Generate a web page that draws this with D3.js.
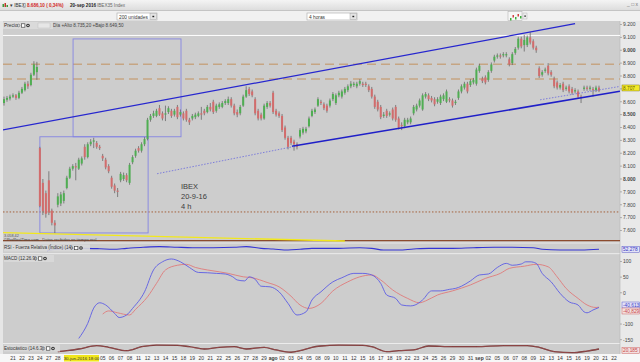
<!DOCTYPE html>
<html>
<head>
<meta charset="utf-8">
<script src="https://cdn.jsdelivr.net/npm/d3@7"></script>
<style>
  body { margin: 0; background: #e6e6e6; }
  svg { display: block; font-family: "Liberation Sans", Arial, sans-serif; }
</style>
</head>
<body>
<svg id="chart" width="640" height="362"></svg>
<script>
// IBEX 4h candles, 20-jun .. 20-sep 2016
const opens = [8590,8615,8625,8640,8650,8630,8670,8690,8740,8730,8810,8830,8240,7970,7890,7990,7755,7660,7800,7810,7830,7930,8010,8080,8100,8080,8120,8250,8170,8270,8290,8280,8250,8180,8150,8100,8010,7950,7910,7990,8000,8030,7970,8130,8180,8240,8220,8270,8310,8460,8490,8490,8550,8510,8500,8520,8530,8500,8560,8500,8510,8530,8460,8470,8480,8490,8510,8530,8520,8560,8600,8530,8560,8560,8590,8590,8620,8570,8520,8510,8570,8640,8700,8680,8620,8530,8500,8470,8560,8590,8670,8530,8510,8490,8400,8320,8320,8290,8270,8330,8360,8370,8410,8490,8520,8570,8600,8580,8570,8570,8620,8590,8650,8640,8670,8690,8720,8730,8720,8740,8740,8740,8720,8700,8640,8600,8560,8490,8530,8500,8540,8560,8470,8420,8410,8440,8440,8510,8540,8570,8540,8640,8650,8630,8620,8600,8590,8620,8600,8620,8610,8590,8630,8680,8710,8740,8730,8750,8740,8840,8780,8790,8770,8840,8920,8950,8960,8960,8960,8930,8900,8980,9020,9090,9040,9040,9100,9070,9020,8860,8810,8840,8880,8830,8780,8750,8710,8740,8700,8720,8700,8680,8680,8640,8700,8710,8700,8700,8690,8710];
const highs = [8640,8645,8655,8665,8660,8685,8715,8755,8760,8825,8915,8910,8250,8000,7910,8060,7770,7680,7890,7900,7910,8025,8095,8115,8125,8165,8175,8270,8285,8310,8320,8295,8265,8195,8165,8115,8025,7965,7930,8055,8050,8045,8125,8185,8235,8255,8285,8325,8475,8505,8530,8545,8575,8525,8570,8565,8545,8545,8575,8540,8525,8545,8475,8505,8515,8525,8560,8545,8575,8590,8615,8585,8595,8605,8620,8640,8635,8585,8540,8575,8655,8720,8715,8695,8635,8545,8515,8585,8605,8605,8685,8545,8525,8505,8415,8335,8335,8305,8285,8395,8405,8405,8485,8545,8555,8635,8615,8595,8585,8625,8675,8665,8685,8695,8715,8735,8760,8755,8755,8775,8755,8755,8735,8715,8655,8615,8575,8520,8545,8525,8555,8575,8485,8440,8475,8475,8485,8575,8585,8625,8665,8675,8665,8645,8635,8635,8655,8665,8695,8635,8625,8615,8695,8735,8755,8755,8775,8785,8865,8895,8795,8805,8845,8905,8965,8975,8975,8985,8985,8945,8985,9025,9105,9105,9120,9115,9140,9085,9035,8875,8845,8865,8900,8845,8795,8765,8745,8755,8725,8735,8715,8705,8695,8655,8725,8725,8725,8715,8725,8725];
const lows = [8570,8600,8610,8630,8615,8620,8660,8680,8700,8720,8800,8770,7780,7720,7700,7720,7640,7580,7780,7790,7810,7920,8000,8065,7990,8070,8105,8150,8160,8255,8240,8235,8225,8140,8075,8045,7925,7890,7860,7975,7985,7975,7955,8115,8165,8205,8205,8255,8300,8445,8475,8480,8490,8455,8450,8505,8475,8485,8465,8485,8455,8445,8420,8455,8465,8480,8460,8495,8510,8525,8505,8515,8545,8550,8575,8575,8555,8495,8480,8495,8560,8630,8645,8635,8495,8455,8455,8460,8545,8555,8505,8485,8475,8365,8305,8230,8265,8220,8230,8315,8345,8355,8400,8480,8505,8560,8575,8535,8515,8555,8605,8575,8635,8625,8655,8675,8705,8715,8705,8725,8715,8715,8675,8625,8545,8525,8465,8475,8475,8485,8455,8445,8385,8380,8395,8425,8425,8495,8525,8555,8530,8625,8605,8595,8565,8585,8575,8605,8590,8595,8555,8575,8615,8665,8695,8665,8715,8735,8725,8825,8745,8735,8755,8825,8905,8935,8935,8945,8945,8875,8885,8965,9005,9015,8990,9025,9045,9005,8980,8785,8795,8825,8805,8795,8705,8695,8695,8675,8685,8665,8655,8665,8625,8590,8685,8685,8685,8640,8675,8675];
const closes = [8620,8630,8640,8650,8630,8670,8700,8740,8720,8810,8890,8870,7790,7750,7730,7740,7660,7640,7865,7880,7890,8010,8080,8100,8090,8150,8160,8170,8270,8290,8300,8250,8240,8160,8090,8060,7940,7910,7900,8040,8030,7990,8110,8170,8220,8220,8270,8310,8460,8490,8510,8530,8500,8470,8510,8550,8490,8530,8480,8520,8470,8460,8440,8490,8500,8510,8500,8510,8560,8540,8520,8570,8580,8590,8605,8620,8570,8510,8500,8560,8640,8690,8660,8650,8510,8470,8470,8570,8590,8570,8520,8500,8490,8380,8320,8250,8280,8270,8250,8380,8390,8390,8470,8530,8540,8620,8590,8550,8530,8610,8660,8650,8670,8680,8700,8720,8740,8740,8740,8760,8730,8730,8690,8640,8560,8540,8480,8500,8490,8510,8470,8460,8400,8410,8460,8460,8470,8560,8570,8610,8650,8660,8620,8610,8580,8620,8640,8650,8680,8610,8570,8600,8680,8720,8740,8680,8760,8770,8850,8880,8760,8750,8830,8890,8950,8960,8950,8970,8970,8890,8970,9010,9090,9030,9080,9100,9060,9020,9000,8800,8830,8850,8820,8810,8720,8710,8730,8690,8710,8680,8670,8690,8640,8630,8710,8700,8710,8690,8710,8686];

// drawn objects on the price panel, as [candle index, price]
const upperChannel = [[-1.3, 8377], [191, 9206]];
const lowerChannel = [[96.3, 8254], [206, 8681]];
const lowerChannelExt = [[51.2, 8041], [97.3, 8254]];
const rightDotted = [[179.3, 8615], [206, 8719]];
const yellowLine = [[-1.3, 7584], [114, 7518]];
const projBoxes = [[23.1, 59.2, 8328, 9088], [12, 48.2, 7581, 8328]];
const whiteLevel = 9115;
const tanLevels = [8891, 8777];
const dottedLevel = 7744;
const baseLevel = 7522;
const priceTicks = [9200, 9100, 9000, 8900, 8800, 8700, 8600, 8500, 8400, 8300, 8200, 8100, 8000, 7900, 7800, 7700, 7600];
const boldTicks = [9000, 8500, 8000];

// indicators, as [candle index, value]
const rsiPts = [[14.4,41],[18.7,54],[26.4,59],[32,56],[36.5,52],[41,59],[46.5,67],[52,72],[58,67],[63,64],[70,64],[77,67],[81,72],[86,59],[90,54],[95,46],[99,52],[103,59],[106,59],[112,59],[119,64],[123,59],[127,46],[132,46],[137,54],[142,59],[150,59],[157,64],[164,67],[170,67],[177,64],[180,52],[186,46],[193,46],[199,52]];
const macdPts = [[25,-146],[28,-98],[30,-49],[32,-32],[34,-39],[37,-66],[38.5,-79],[41,-71],[43,-50],[47,3],[50,73],[53,99],[56,108],[59,99],[62,81],[65,65],[68,64],[71,62],[74,60],[76.5,51],[78,41],[80.5,38],[82,51],[84,43],[86,21],[89,19],[92,3],[95,-34],[98,-71],[101,-61],[103,-23],[106,3],[110,35],[113,48],[117,62],[120,62],[123,57],[126,30],[128,-7],[131,-18],[133,-39],[136,-42],[137.5,-39],[140,-23],[143,6],[146,6],[149,11],[151,14],[153,21],[156,38],[159,57],[162,60],[165,81],[168,94],[170,88],[173,92],[174.5,99],[176,99],[178,94],[180,62],[183,35],[186,-2],[189,-29],[192,-39],[194,-61],[195,-64],[197,-55],[199,-47]];
const signalPts = [[33,-68],[35,-58],[38,-64],[42,-71],[44,-53],[48,-13],[51,30],[54,73],[58,88],[61,91],[64,81],[68,73],[72,67],[75,62],[80,51],[83,48],[88,33],[92,19],[96,-11],[99,-39],[102,-50],[106,-34],[110,6],[115,35],[119,51],[123,57],[126,41],[130,9],[135,-18],[139,-32],[141,-26],[145,-7],[150,6],[156,25],[161,46],[166,62],[169,78],[174,85],[178,91],[182,83],[185,51],[188,14],[192,-18],[195,-39],[198,-47],[199,-46]];
const stochPts = [[18,28],[21,36],[25,50],[31,78],[35,64],[41,36],[46,69],[51,83],[58,81],[62,69],[67,50],[72,64],[77,69],[81,50],[87,64],[91,42],[96,23],[99,36],[103,64],[106,75],[112,83],[120,81],[123,69],[128,28],[132,36],[137,42],[142,75],[150,69],[158,69],[167,78],[175,78],[179,64],[184,28],[190,19],[195,33],[199,50]];
const macdTicks = [100, 50, 0, -100, -150];

// one label per trading day, 3 candles a day
const dayLabels = ["20","21","22","23","24","27","28","29","30","01","04","05","06","07","08","11","12","13","14","15","18","19","20","21","22","25","26","27","28","29","ago","02","03","04","05","08","09","10","11","12","15","16","17","18","19","22","23","24","25","26","29","30","31","sep","02","05","06","07","08","09","12","13","14","15","16","19","20","21","22"];
const cursorLabel = "30-jun-2016 18:00";

const svg = d3.select("#chart");
const es = d3.formatLocale({ decimal: ",", thousands: ".", grouping: [3], currency: ["", "€"] });
const fmt = es.format(",d");

const L = 3, R = 620;
const P = { top: 21, bot: 243 };
const RS = { top: 243, bot: 253.5 };
const M = { top: 254, bot: 343 };
const S = { top: 344, bot: 354 };

const x = d3.scaleLinear().domain([0, 199]).range([4, 599]);
const y = d3.scaleLinear().domain([7600, 9200]).range([230.5, 24.5]);
const yRsi = d3.scaleLinear().domain([0, 100]).range([256, 243]);
const yMacd = d3.scaleLinear().domain([-150, 100]).range([339.7, 261.5]);
const yStoch = d3.scaleLinear().domain([0, 100]).range([355, 343]);

const defs = svg.append("defs");
const grad = defs.append("linearGradient").attr("id", "titlebar").attr("x2", 0).attr("y2", 1);
grad.append("stop").attr("offset", 0).attr("stop-color", "#f4f4f4");
grad.append("stop").attr("offset", 1).attr("stop-color", "#dcdcdc");
const clip = (id, top, bot) =>
  defs.append("clipPath").attr("id", id).append("rect")
    .attr("x", L).attr("y", top).attr("width", R - L).attr("height", bot - top);
clip("cp", P.top, P.bot);
clip("cr", RS.top, RS.bot);
clip("cm", M.top, M.bot);
clip("cs", S.top, S.bot);

// ---- window chrome
svg.append("rect").attr("width", 640).attr("height", 10.5).attr("fill", "url(#titlebar)");
svg.append("rect").attr("y", 10.5).attr("width", 640).attr("height", 10.5).attr("fill", "#f1f1f1");
svg.append("line").attr("x1", 0).attr("x2", 640).attr("y1", 10.5).attr("y2", 10.5).attr("stroke", "#c4c4c4");

const icon = svg.append("g");
[[2.5, 4, 3, "#3a9a3a"], [4.5, 3, 4, "#c0392b"], [6.5, 5, 2, "#3a9a3a"]].forEach(([ix, iy, ih, c]) =>
  icon.append("rect").attr("x", ix).attr("y", iy).attr("width", 1.5).attr("height", ih).attr("fill", c));

const title = svg.append("g").attr("font-size", 4.6);
title.append("text").attr("x", 10).attr("y", 7).attr("fill", "#333").text("▾ IBEX");
title.append("text").attr("x", 27).attr("y", 7).attr("fill", "#d21f1f").attr("font-weight", "bold").text("8.686,10 ( 0,34%)");
title.append("text").attr("x", 70).attr("y", 7).attr("fill", "#222").attr("font-weight", "bold").text("20-sep 2016");
title.append("text").attr("x", 97).attr("y", 7).attr("fill", "#666").text("IBEX35 Index");
svg.append("rect").attr("x", 23.5).attr("y", 3.3).attr("width", 2).attr("height", 4).attr("fill", "none").attr("stroke", "#888").attr("stroke-width", 0.5);
svg.append("text").attr("x", 627).attr("y", 6).attr("font-size", 5).attr("fill", "#777").text("_ □ x");

const dropdown = (bx, bw, label) => {
  svg.append("rect").attr("x", bx).attr("y", 13).attr("width", bw).attr("height", 7)
    .attr("fill", "#fff").attr("stroke", "#a8a8a8").attr("stroke-width", 0.6);
  svg.append("rect").attr("x", bx + bw - 7).attr("y", 13.5).attr("width", 6.5).attr("height", 6)
    .attr("fill", "#e4e4e4").attr("stroke", "#999").attr("stroke-width", 0.4);
  svg.append("rect").attr("x", bx + bw - 4.6).attr("y", 15.8).attr("width", 1.8).attr("height", 1.4).attr("fill", "#222");
  svg.append("text").attr("x", bx + 2).attr("y", 18.5).attr("font-size", 4.8).attr("fill", "#333").text(label);
};
dropdown(117, 40, "200 unidades");
dropdown(307, 50, "4 horas");

const tool = svg.append("g");
tool.append("rect").attr("x", 508).attr("y", 11.5).attr("width", 14).attr("height", 9)
  .attr("fill", "#f6f6f6").attr("stroke", "#aaa").attr("stroke-width", 0.5);
[[510, 18, "#3cae3c"], [512.5, 15, "#d04040"], [515, 17, "#3cae3c"], [517.5, 14, "#d04040"], [520, 16, "#3cae3c"]]
  .forEach(([tx, ty, c]) => tool.append("rect").attr("x", tx).attr("y", ty).attr("width", 1.5).attr("height", 2.5).attr("fill", c));
tool.append("rect").attr("x", 523).attr("y", 13).attr("width", 4).attr("height", 6)
  .attr("fill", "#eee").attr("stroke", "#aaa").attr("stroke-width", 0.4);
tool.append("rect").attr("x", 524.3).attr("y", 15.5).attr("width", 1.6).attr("height", 1.2).attr("fill", "#222");

// ---- panel backgrounds
[P, RS, M, S].forEach((p) =>
  svg.append("rect").attr("x", L).attr("y", p.top).attr("width", R - L).attr("height", p.bot - p.top).attr("fill", "#cdcdcd"));
svg.append("rect").attr("x", R).attr("y", P.top).attr("width", 640 - R).attr("height", S.bot - P.top).attr("fill", "#e9e9e9");
[RS.top, M.top - 0.3, S.top - 0.5].forEach((yy) =>
  svg.append("line").attr("x1", L).attr("x2", R).attr("y1", yy).attr("y2", yy).attr("stroke", "#eeeeee").attr("stroke-width", 0.8));
svg.append("line").attr("x1", R).attr("x2", R).attr("y1", P.top).attr("y2", S.bot).attr("stroke", "#b5b5b5").attr("stroke-width", 0.6);
svg.append("rect").attr("x", 0).attr("y", S.bot).attr("width", 640).attr("height", 362 - S.bot).attr("fill", "#f7f7f7");

// ---- price panel
const pg = svg.append("g").attr("clip-path", "url(#cp)");
const hline = (v, stroke, w, dash) =>
  pg.append("line").attr("x1", L).attr("x2", R).attr("y1", y(v)).attr("y2", y(v))
    .attr("stroke", stroke).attr("stroke-width", w).attr("stroke-dasharray", dash);
hline(whiteLevel, "#ffffff", 1, null);
tanLevels.forEach((v) => hline(v, "#c6a583", 1.6, "9,5"));
hline(dottedLevel, "#a0552a", 0.9, "1.5,1.8");
hline(baseLevel, "#8c4b2e", 1.2, null);

pg.selectAll("rect.box").data(projBoxes).join("rect").attr("class", "box")
  .attr("x", (d) => x(d[0])).attr("width", (d) => x(d[1]) - x(d[0]))
  .attr("y", (d) => y(d[3])).attr("height", (d) => y(d[2]) - y(d[3]))
  .attr("fill", "none").attr("stroke", "#8585e2").attr("stroke-width", 0.9);

const idx = d3.range(opens.length);
const candle = pg.selectAll("g.candle").data(idx).join("g").attr("class", "candle");
candle.append("line")
  .attr("x1", (i) => x(i)).attr("x2", (i) => x(i))
  .attr("y1", (i) => y(highs[i])).attr("y2", (i) => y(lows[i]))
  .attr("stroke", "#5a5a5a").attr("stroke-width", 0.7);
candle.append("rect")
  .attr("x", (i) => x(i) - 1).attr("width", 2)
  .attr("y", (i) => y(Math.max(opens[i], closes[i])))
  .attr("height", (i) => Math.max(0.8, Math.abs(y(opens[i]) - y(closes[i]))))
  .attr("fill", (i) => (closes[i] >= opens[i] ? "#4fae52" : "#d26c6c"));

const seg = (pts) => d3.line().x((d) => x(d[0])).y((d) => y(d[1]))(pts);
pg.append("path").attr("d", seg(upperChannel)).attr("stroke", "#2626cf").attr("stroke-width", 1.3).attr("fill", "none");
pg.append("path").attr("d", seg(lowerChannel)).attr("stroke", "#1f1fc8").attr("stroke-width", 1.6).attr("fill", "none");
pg.append("path").attr("d", seg(lowerChannelExt)).attr("stroke", "#5a5ae0").attr("stroke-width", 0.7).attr("stroke-dasharray", "1.5,1.5").attr("fill", "none");
pg.append("path").attr("d", seg(rightDotted)).attr("stroke", "#5a5ae0").attr("stroke-width", 0.7).attr("stroke-dasharray", "1.5,1.5").attr("fill", "none");
pg.append("path").attr("d", seg(yellowLine)).attr("stroke", "#f2e81c").attr("stroke-width", 1.4).attr("fill", "none");

const note = pg.append("text").attr("font-size", 7.5).attr("fill", "#3c3c3c");
["IBEX", "20-9-16", "4 h"].forEach((t, k) => note.append("tspan").attr("x", 181).attr("y", 189 + k * 10).text(t));

// panel header rows
svg.append("rect").attr("x", L).attr("y", P.top + 1).attr("width", 50).attr("height", 7).attr("fill", "#dadada");
svg.append("text").attr("x", 4).attr("y", 27).attr("font-size", 4.8).attr("fill", "#333").text("Precio");
const miniIcons = (x0, yy) => {
  svg.append("circle").attr("cx", x0 + 1.5).attr("cy", yy - 1.5).attr("r", 1.3).attr("fill", "none").attr("stroke", "#555").attr("stroke-width", 0.5);
  svg.append("rect").attr("x", x0 + 4.5).attr("y", yy - 3.2).attr("width", 3.4).attr("height", 3.4).attr("fill", "#fff").attr("stroke", "#333").attr("stroke-width", 0.6);
  svg.append("circle").attr("cx", x0 + 11).attr("cy", yy - 1.5).attr("r", 1.8).attr("fill", "#333");
  svg.append("circle").attr("cx", x0 + 11).attr("cy", yy - 1.5).attr("r", 0.7).attr("fill", "#fff");
};
miniIcons(17, 27);
svg.append("rect").attr("x", 38).attr("y", 23).attr("width", 12).attr("height", 5).attr("fill", "#e6e6e6").attr("stroke", "#bbb").attr("stroke-width", 0.4);
svg.append("text").attr("x", 53).attr("y", 27).attr("font-size", 4.6).attr("fill", "#444").text("Día +Alto 8.735,20 +Bajo 8.649,50");
svg.append("text").attr("x", 4).attr("y", 237).attr("font-size", 3.8).attr("fill", "#555").text("3.058,42");
svg.append("text").attr("x", 4).attr("y", 241).attr("font-size", 4).attr("fill", "#444").text("©ProRealTime.com - Datos recibidos en tiempo real");

// ---- price axis
const pa = svg.append("g").attr("font-size", 5).attr("fill", "#444");
priceTicks.forEach((v) => {
  pa.append("line").attr("x1", R).attr("x2", R + 2).attr("y1", y(v)).attr("y2", y(v)).attr("stroke", "#777").attr("stroke-width", 0.5);
  pa.append("text").attr("x", R + 3).attr("y", y(v) + 1.8)
    .attr("font-weight", boldTicks.includes(v) ? "bold" : null).text(fmt(v));
});
const tag = (ty, label, fill, col) => {
  svg.append("rect").attr("x", R + 2).attr("y", ty - 3).attr("width", 17.5).attr("height", 6)
    .attr("fill", fill).attr("stroke", col).attr("stroke-width", 0.4);
  svg.append("text").attr("x", R + 3).attr("y", ty + 1.8).attr("font-size", 4.8).attr("fill", col).text(label);
};
tag(y(8707), "8.707", "#f3ea2a", "#6a6200");

// ---- RSI
const rg = svg.append("g").attr("clip-path", "url(#cr)");
rg.append("path").attr("d", d3.line().x((d) => x(d[0])).y((d) => yRsi(d[1])).curve(d3.curveMonotoneX)(rsiPts))
  .attr("fill", "none").attr("stroke", "#3535d6").attr("stroke-width", 1.1);
svg.append("rect").attr("x", L + 1).attr("y", RS.top + 1.5).attr("width", 86).attr("height", 7).attr("fill", "#d9d9d9").attr("opacity", 0.9);
svg.append("text").attr("x", 4).attr("y", 249.3).attr("font-size", 4.5).attr("fill", "#333").text("RSI - Fuerza Relativa (Índice) (14)");
miniIcons(70, 249.5);
tag(yRsi(52.3), "52,278", "#e2e2f6", "#3535c0");

// ---- MACD
const mg = svg.append("g").attr("clip-path", "url(#cm)");
const mline = d3.line().x((d) => x(d[0])).y((d) => yMacd(d[1])).curve(d3.curveMonotoneX);
mg.append("path").attr("d", mline(signalPts)).attr("fill", "none").attr("stroke", "#e07b7b").attr("stroke-width", 0.9);
mg.append("path").attr("d", mline(macdPts)).attr("fill", "none").attr("stroke", "#5c5ce4").attr("stroke-width", 0.9);
svg.append("rect").attr("x", L + 1).attr("y", M.top + 1).attr("width", 50).attr("height", 7).attr("fill", "#d9d9d9").attr("opacity", 0.9);
svg.append("text").attr("x", 4).attr("y", 259.5).attr("font-size", 4.5).attr("fill", "#333").text("MACD (12.26.9)");
miniIcons(34, 260);
macdTicks.forEach((v) => {
  pa.append("line").attr("x1", R).attr("x2", R + 2).attr("y1", yMacd(v)).attr("y2", yMacd(v)).attr("stroke", "#777").attr("stroke-width", 0.5);
  pa.append("text").attr("x", R + 3).attr("y", yMacd(v) + 1.8).text(v);
});
tag(305, "-40,613", "#e2e2f6", "#4040c8");
tag(311, "-40,829", "#f3e0e0", "#c84848");

// ---- Stochastic
const sg = svg.append("g").attr("clip-path", "url(#cs)");
const sline = d3.line().x((d) => x(d[0])).y((d) => yStoch(d[1])).curve(d3.curveMonotoneX);
sg.append("path").attr("d", sline(stochPts)).attr("fill", "none").attr("stroke", "#5e2a2a").attr("stroke-width", 1.3);
sg.append("path").attr("d", sline(stochPts)).attr("fill", "none").attr("stroke", "#c86a6a").attr("stroke-width", 0.5);
svg.append("rect").attr("x", L + 1).attr("y", S.top + 0.5).attr("width", 56).attr("height", 7).attr("fill", "#d9d9d9").attr("opacity", 0.9);
svg.append("text").attr("x", 4).attr("y", 349.5).attr("font-size", 4.5).attr("fill", "#333").text("Estocástico (14.6.3)");
miniIcons(42, 350);
tag(350.5, "20,185", "#f3e0e0", "#c84848");

// ---- date axis (cursor box hides the days it covers)
const cursorX0 = 64, cursorX1 = 99;
const xa = svg.append("g").attr("font-size", 5).attr("fill", "#333").attr("text-anchor", "middle");
dayLabels.forEach((t, k) => {
  const px = x(k * 3);
  if (k === 0 || (px > cursorX0 - 3 && px < cursorX1 + 2)) return;
  xa.append("text").attr("x", px).attr("y", 359.5)
    .attr("font-weight", t === "ago" || t === "sep" ? "bold" : null).text(t);
});
svg.append("rect").attr("x", cursorX0).attr("y", 355).attr("width", cursorX1 - cursorX0).attr("height", 6.5).attr("fill", "#f0e61c");
svg.append("text").attr("x", (cursorX0 + cursorX1) / 2).attr("y", 359.6).attr("font-size", 4.4)
  .attr("text-anchor", "middle").attr("fill", "#333").text(cursorLabel);
</script>
</body>
</html>
